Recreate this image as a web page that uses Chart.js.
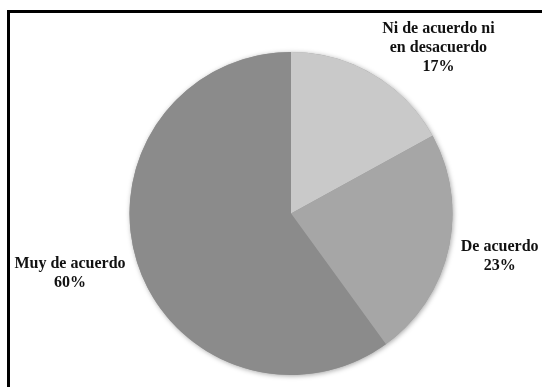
<!DOCTYPE html>
<html>
<head>
<meta charset="utf-8">
<script src="https://cdn.jsdelivr.net/npm/chart.js@4"></script>
<style>
  html, body { margin: 0; padding: 0; background: #fff; }
  #wrap { position: relative; width: 542px; height: 387px; overflow: hidden; }
  #frame { position: absolute; left: 7px; top: 10px; width: 600px; height: 500px;
           border-top: 3px solid #000; border-left: 3px solid #000; box-sizing: border-box; }
  canvas { position: absolute; left: 0; top: 0; }
</style>
</head>
<body>
<div id="wrap">
  <canvas id="c" width="542" height="387"></canvas>
  <div id="frame"></div>
</div>
<script>
const categories = [["Ni de acuerdo ni", "en desacuerdo"], ["De acuerdo"], ["Muy de acuerdo"]];
const values = [17, 23, 60];
const sliceColors = ["#c9c9c9", "#a6a6a6", "#8b8b8b"];

const labelAngleOffsetDeg = [11, -1, 2.8];
const labelDistance = [222, 213, 229];

const shadowPlugin = {
  id: 'pieShadow',
  beforeDatasetsDraw(chart) {
    const arc = chart.getDatasetMeta(0).data[0];
    if (!arc) return;
    const ctx = chart.ctx;
    ctx.save();
    ctx.shadowColor = 'rgba(0,0,0,0.35)';
    ctx.shadowBlur = 5;
    ctx.shadowOffsetX = 1;
    ctx.shadowOffsetY = 1;
    ctx.fillStyle = '#999';
    ctx.beginPath();
    ctx.arc(arc.x, arc.y, arc.outerRadius, 0, Math.PI * 2);
    ctx.fill();
    ctx.restore();
  }
};

const labelPlugin = {
  id: 'outsideLabels',
  afterDatasetsDraw(chart) {
    const ctx = chart.ctx;
    const meta = chart.getDatasetMeta(0);
    ctx.save();
    ctx.font = 'bold 16px "Liberation Serif", "Times New Roman", serif';
    ctx.fillStyle = '#111';
    ctx.textAlign = 'center';
    ctx.textBaseline = 'middle';
    const lh = 19;
    meta.data.forEach((arc, i) => {
      const mid = (arc.startAngle + arc.endAngle) / 2 + labelAngleOffsetDeg[i] * Math.PI / 180;
      const cx = arc.x + Math.cos(mid) * labelDistance[i];
      const cy = arc.y + Math.sin(mid) * labelDistance[i];
      const lines = categories[i].concat([values[i] + '%']);
      const y0 = cy - (lines.length - 1) * lh / 2;
      lines.forEach((t, k) => ctx.fillText(t, cx, y0 + k * lh));
    });
    ctx.restore();
  }
};

new Chart(document.getElementById('c'), {
  type: 'pie',
  data: {
    labels: categories,
    datasets: [{
      data: values,
      backgroundColor: sliceColors,
      borderWidth: 0
    }]
  },
  options: {
    responsive: false,
    animation: false,
    layout: { padding: { top: 52, bottom: 12, left: 91, right: 51 } },
    plugins: {
      legend: { display: false },
      tooltip: { enabled: false }
    }
  },
  plugins: [shadowPlugin, labelPlugin]
});
</script>
</body>
</html>
